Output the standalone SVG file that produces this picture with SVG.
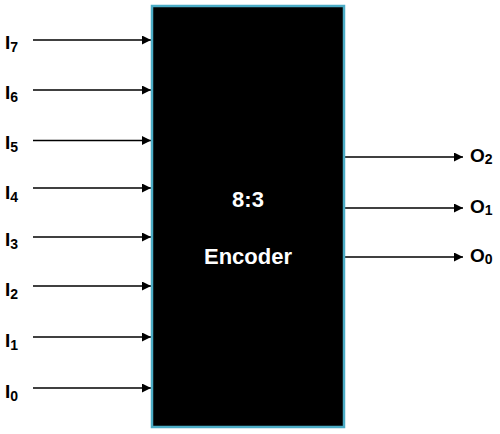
<svg xmlns="http://www.w3.org/2000/svg" width="500" height="434" viewBox="0 0 500 434">
<defs>
<style>
.lbl{font-family:"Liberation Sans",Arial,sans-serif;font-weight:bold;font-size:19px;fill:#000}
.sub{font-size:14px}
.w{font-family:"Liberation Sans",Arial,sans-serif;font-weight:bold;font-size:22px;fill:#fff;text-anchor:middle}
.ln{stroke:#000;stroke-width:1.5;fill:none;marker-end:url(#ah)}
</style>
<marker id="ah" viewBox="0 0 10 10" refX="10" refY="5" markerUnits="userSpaceOnUse" markerWidth="10" markerHeight="9" orient="auto">
<path d="M0,0 L10,5 L0,10 z" fill="#000"/>
</marker>
</defs>
<rect width="500" height="434" fill="#fff"/>
<g id="connectors">
<line class="ln" x1="33" y1="40" x2="151" y2="40"/>
<line class="ln" x1="33" y1="90" x2="151" y2="90"/>
<line class="ln" x1="33" y1="140.5" x2="151" y2="140.5"/>
<line class="ln" x1="33" y1="188" x2="151" y2="188"/>
<line class="ln" x1="33" y1="237" x2="151" y2="237"/>
<line class="ln" x1="33" y1="286" x2="151" y2="286"/>
<line class="ln" x1="33" y1="337" x2="151" y2="337"/>
<line class="ln" x1="33" y1="388" x2="151" y2="388"/>
<line class="ln" x1="345" y1="157" x2="463" y2="157"/>
<line class="ln" x1="345" y1="208" x2="463" y2="208"/>
<line class="ln" x1="345" y1="257" x2="463" y2="257"/>
</g>
<g id="encoder">
<rect x="152" y="6" width="192" height="421" fill="#000" stroke="#4bacc6" stroke-width="2.5"/>
<text class="w" x="248" y="207">8:3</text>
<text class="w" x="248" y="264">Encoder</text>
</g>
<g id="inputs">
<text class="lbl" x="5" y="49">I<tspan class="sub" dy="3">7</tspan></text>
<text class="lbl" x="5" y="99">I<tspan class="sub" dy="3">6</tspan></text>
<text class="lbl" x="5" y="149">I<tspan class="sub" dy="3">5</tspan></text>
<text class="lbl" x="5" y="199">I<tspan class="sub" dy="3">4</tspan></text>
<text class="lbl" x="5" y="246">I<tspan class="sub" dy="3">3</tspan></text>
<text class="lbl" x="5" y="296">I<tspan class="sub" dy="3">2</tspan></text>
<text class="lbl" x="5" y="347">I<tspan class="sub" dy="3">1</tspan></text>
<text class="lbl" x="5" y="398">I<tspan class="sub" dy="3">0</tspan></text>
</g>
<g id="outputs">
<text class="lbl" x="470" y="162">O<tspan class="sub" dy="2">2</tspan></text>
<text class="lbl" x="470" y="213">O<tspan class="sub" dy="2">1</tspan></text>
<text class="lbl" x="470" y="262">O<tspan class="sub" dy="2">0</tspan></text>
</g>
</svg>
